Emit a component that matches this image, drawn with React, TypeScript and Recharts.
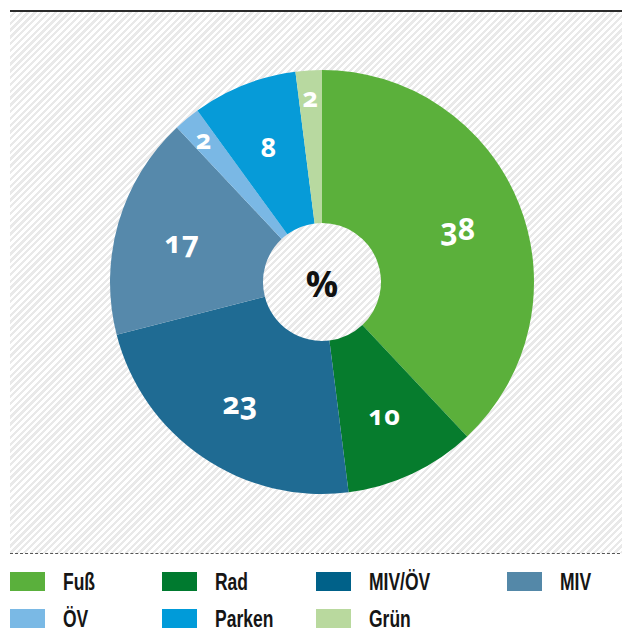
import { PieChart, Pie, Cell } from 'recharts';

// Anteile in Prozent, im Uhrzeigersinn ab 12 Uhr
const categories = ['Fuß', 'Rad', 'MIV/ÖV', 'MIV', 'ÖV', 'Parken', 'Grün'];
const shares = [38, 10, 23, 17, 2, 8, 2];
const sliceColors = ['#5bb03b', '#067c2d', '#1f6b93', '#5689ab', '#7ab8e5', '#069bd8', '#b8d9a0'];
const legendColors = ['#5ab03c', '#007a2f', '#006189', '#5488a8', '#7ab9e5', '#009bd9', '#b9d99e'];

const pieData = categories.map((name, i) => ({ name, value: shares[i] }));

const RAD = Math.PI / 180;

const renderLabel = (props: any) => {
  const { cx, cy, midAngle, value } = props;
  // kleine Segmente: Zahl weiter außen
  const r = value <= 2 ? 186 : 146;
  const x = cx + r * Math.cos(-midAngle * RAD);
  const y = cy + r * Math.sin(-midAngle * RAD);
  return (
    <text
      x={x}
      y={y}
      fill="#ffffff"
      textAnchor="middle"
      dominantBaseline="central"
      style={{
        fontFamily: '"Open Sans", sans-serif',
        fontWeight: 700,
        fontSize: value >= 17 ? 30 : 27,
        fontVariantNumeric: 'oldstyle-nums',
      }}
    >
      {value}
    </text>
  );
};

const legendCols = [10, 162, 316, 507];

export default function App() {
  return (
    <div style={{ position: 'relative', width: 630, height: 636, margin: -8, background: '#fff', overflow: 'hidden' }}>
      {/* Schraffur-Hintergrund */}
      <div
        style={{
          position: 'absolute',
          left: 10,
          top: 12,
          width: 620,
          height: 541,
          background: 'repeating-linear-gradient(135deg, #ffffff 0px, #ffffff 2.4px, #e9e9e9 2.4px, #e9e9e9 4.8px)',
        }}
      />
      <div style={{ position: 'absolute', left: 10, top: 10, width: 620, height: 2, background: '#2b2b2b' }} />
      <div style={{ position: 'absolute', left: 10, top: 553, width: 620, height: 0, borderTop: '1.5px dashed #555' }} />

      <div style={{ position: 'absolute', left: 0, top: 0 }}>
        <PieChart width={630} height={560} margin={{ top: 0, right: 0, bottom: 0, left: 0 }}>
          <Pie
            data={pieData}
            dataKey="value"
            nameKey="name"
            cx={322}
            cy={282}
            innerRadius={59}
            outerRadius={212}
            startAngle={90}
            endAngle={-270}
            stroke="none"
            label={renderLabel}
            labelLine={false}
            isAnimationActive={false}
          >
            {pieData.map((d, i) => (
              <Cell key={d.name} fill={sliceColors[i]} />
            ))}
          </Pie>
          <text
            x={322}
            y={283}
            textAnchor="middle"
            dominantBaseline="central"
            style={{ fontFamily: '"Open Sans", sans-serif', fontWeight: 700, fontSize: 36, fill: '#111' }}
          >
            %
          </text>
        </PieChart>
      </div>

      {/* Legende */}
      {categories.map((name, i) => {
        const col = i % 4;
        const row = Math.floor(i / 4);
        const left = legendCols[col];
        const top = 572 + row * 37;
        return (
          <div key={name} style={{ position: 'absolute', left, top, height: 19, display: 'flex', alignItems: 'center' }}>
            <div style={{ width: 35, height: 19, background: legendColors[i] }} />
            <span
              style={{
                marginLeft: 18,
                fontFamily: '"Liberation Sans", sans-serif',
                fontWeight: 700,
                fontSize: 23,
                color: '#151515',
                lineHeight: '19px',
                position: 'relative',
                top: 1,
                display: 'inline-block',
                transform: 'scaleX(0.76)',
                transformOrigin: 'left center',
                whiteSpace: 'nowrap',
              }}
            >
              {name}
            </span>
          </div>
        );
      })}
    </div>
  );
}
